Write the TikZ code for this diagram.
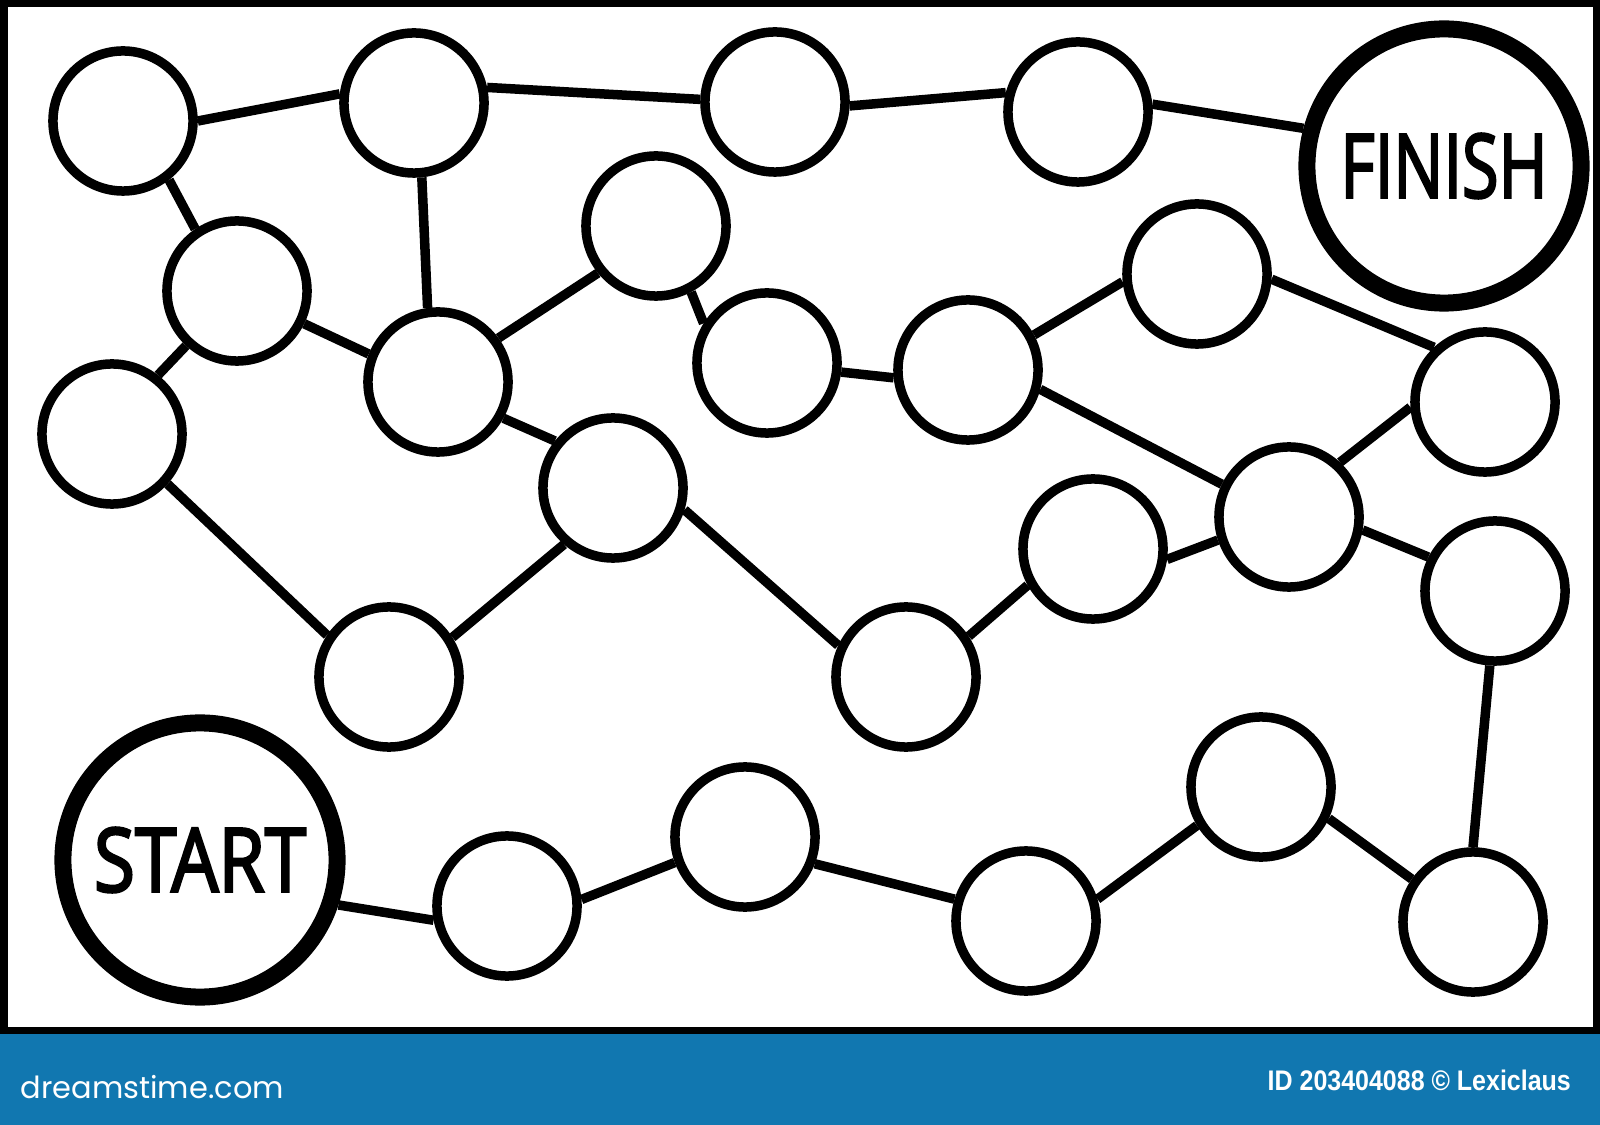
\documentclass[tikz,border=0pt]{standalone}
\usepackage{fontspec}
\setmainfont{Open Sans}
\newfontfamily\tagfont[FakeBold=3]{Open Sans}
\newfontfamily\idfont{Liberation Sans}
\newfontfamily\logofont{Poppins}
\definecolor{barblue}{RGB}{17,119,176}
\begin{document}
\begin{tikzpicture}[x=0.01cm,y=-0.01cm,
  spot/.style={circle,draw=black,line width=0.095cm,fill=white,minimum size=1.40cm,inner sep=0pt},
  bigspot/.style={circle,draw=black,line width=0.17cm,fill=white,minimum size=2.74cm,inner sep=0pt},
  link/.style={line width=0.095cm},
  bartext/.style={text=white,inner sep=0pt,anchor=base west}]
\useasboundingbox (0,0) rectangle (1600,1125);
\fill[white] (0,0) rectangle (1600,1034);
\fill[barblue] (0,1034) rectangle (1600,1125);
\draw[line width=0.075cm] (3.75,3.75) rectangle (1596.25,1030.25);

% nodes
\node[spot] (n1) at (123,121) {};
\node[spot] (n2) at (414,103) {};
\node[spot] (n3) at (775,102) {};
\node[spot] (n4) at (1078,112) {};
\node[bigspot] (fin) at (1444,166) {\resizebox{2.07cm}{0.64cm}{\tagfont FINISH}};
\node[spot] (n6) at (237,291) {};
\node[spot] (n7) at (656,226) {};
\node[spot] (n8) at (438,382) {};
\node[spot] (n9) at (767,363) {};
\node[spot] (n10) at (968,370) {};
\node[spot] (n11) at (1197,274) {};
\node[spot] (n12) at (1485,402) {};
\node[spot] (n13) at (112,434) {};
\node[spot] (n14) at (613,488) {};
\node[spot] (n15) at (1289,517) {};
\node[spot] (n16) at (1093,549) {};
\node[spot] (n17) at (1495,591) {};
\node[spot] (n18) at (389,677) {};
\node[spot] (n19) at (906,677) {};
\node[bigspot] (start) at (200,860) {\resizebox{2.12cm}{0.64cm}{\tagfont START}};
\node[spot] (n21) at (507,906) {};
\node[spot] (n22) at (745,837) {};
\node[spot] (n23) at (1261,787) {};
\node[spot] (n24) at (1026,921) {};
\node[spot] (n25) at (1473,922) {};

% connectors
\draw[link] (n1.0) -- (n2.173);
\draw[link] (n2.12) -- (n3.178);
\draw[link] (n3.-3) -- (n4.165);
\draw[link] (n4.6) -- (fin.165);
\draw[link] (n1.-52) -- (n6.124);
\draw[link] (n2.-84) -- (n8.98);
\draw[link] (n6.-26) -- (n8.158);
\draw[link] (n6.-133) -- (n13.52);
\draw[link] (n8.36) -- (n7.219);
\draw[link] (n7.-62) -- (n9.148);
\draw[link] (n8.-29) -- (n14.141);
\draw[link] (n9.-7) -- (n10.186);
\draw[link] (n10.28) -- (n11.186);
\draw[link] (n11.-4) -- (n12.133);
\draw[link] (n10.-15) -- (n15.154);
\draw[link] (n12.184) -- (n15.47);
\draw[link] (n15.198) -- (n16.-8);
\draw[link] (n15.-10) -- (n17.153);
\draw[link] (n16.209) -- (n19.33);
\draw[link] (n14.-17) -- (n19.155);
\draw[link] (n14.229) -- (n18.32);
\draw[link] (n13.-42) -- (n18.146);
\draw[link] (n17.-94) -- (n25.90);
\draw[link] (n25.145) -- (n23.-25);
\draw[link] (n23.211) -- (n24.17);
\draw[link] (n24.163) -- (n22.-21);
\draw[link] (n22.200) -- (n21.5);
\draw[link] (n21.191) -- (start.-18);

% bar texts
\node[bartext] (logo) at (20,1098) {\resizebox{2.63cm}{!}{\logofont dreamstime.com}};
\node[bartext] (credit) at (1267,1090) {\resizebox{3.03cm}{0.205cm}{\idfont\bfseries ID 203404088 © Lexiclaus}};
\end{tikzpicture}
\end{document}
